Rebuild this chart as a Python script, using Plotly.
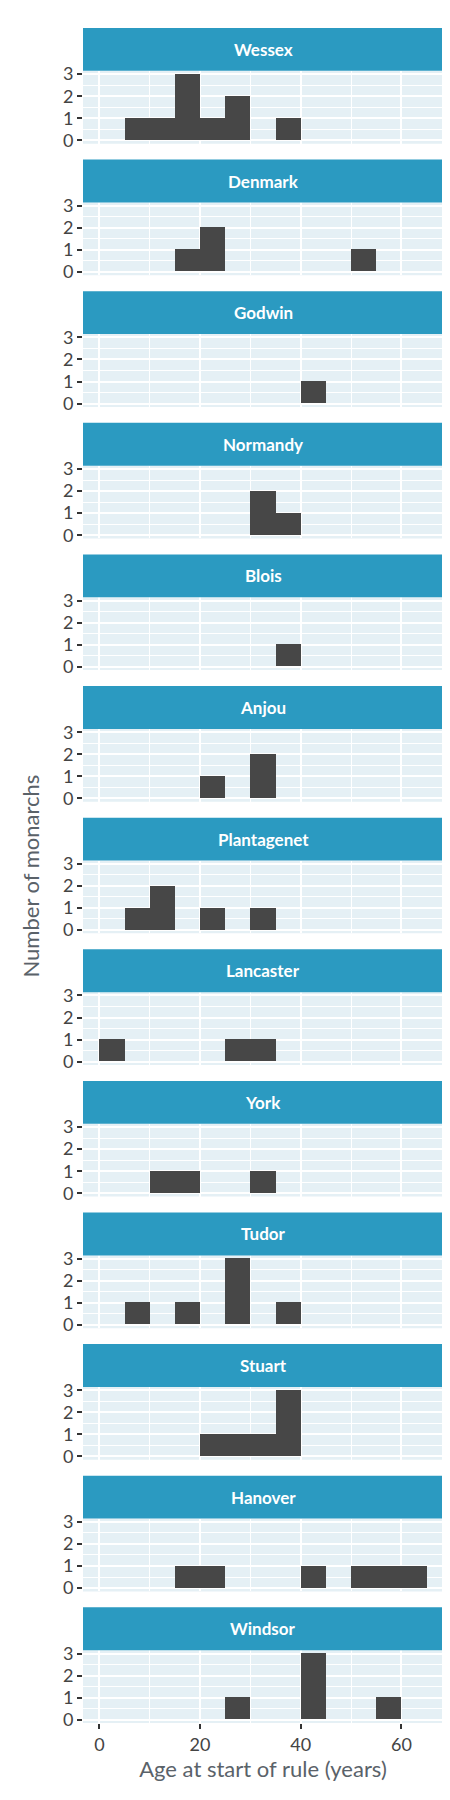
import plotly.graph_objects as go

dynasties = ["Wessex","Denmark","Godwin","Normandy","Blois","Anjou","Plantagenet",
             "Lancaster","York","Tudor","Stuart","Hanover","Windsor"]
bin_starts = [0,5,10,15,20,25,30,35,40,45,50,55,60]
counts = {
    "Wessex":      [0,1,1,3,1,2,0,1,0,0,0,0,0],
    "Denmark":     [0,0,0,1,2,0,0,0,0,0,1,0,0],
    "Godwin":      [0,0,0,0,0,0,0,0,1,0,0,0,0],
    "Normandy":    [0,0,0,0,0,0,2,1,0,0,0,0,0],
    "Blois":       [0,0,0,0,0,0,0,1,0,0,0,0,0],
    "Anjou":       [0,0,0,0,1,0,2,0,0,0,0,0,0],
    "Plantagenet": [0,1,2,0,1,0,1,0,0,0,0,0,0],
    "Lancaster":   [1,0,0,0,0,1,1,0,0,0,0,0,0],
    "York":        [0,0,1,1,0,0,1,0,0,0,0,0,0],
    "Tudor":       [0,1,0,1,0,3,0,1,0,0,0,0,0],
    "Stuart":      [0,0,0,0,1,1,1,3,0,0,0,0,0],
    "Hanover":     [0,0,0,1,1,0,0,0,1,0,1,1,1],
    "Windsor":     [0,0,0,0,0,1,0,0,3,0,0,1,0],
}
binw = 5

W, H = 450, 1800
mt, mb, ml, mr = 15, 83, 75, 15
ph = H - mt - mb
pw = W - ml - mr
strip_h, panel_h, gap = 43, 73, 16

fig = go.Figure()
layout = {}
shapes, annots = [], []
STRIP = "#2b9ac1"
BG = "#e5f0f5"
FONT = "Lato, Roboto, sans-serif"

for i, d in enumerate(dynasties):
    top = i * (strip_h + panel_h + gap)
    p_top = top + strip_h
    p_bot = p_top + panel_h
    y0 = 1 - p_bot / ph
    y1 = 1 - p_top / ph
    s0 = 1 - p_top / ph
    s1 = 1 - top / ph
    n = i + 1
    xa = "x" if n == 1 else f"x{n}"
    ya = "y" if n == 1 else f"y{n}"
    fig.add_trace(go.Bar(
        x=[b + binw / 2 for b in bin_starts], y=counts[d], width=binw,
        marker=dict(color="#474747", line=dict(width=0)),
        xaxis=xa, yaxis=ya, showlegend=False, hoverinfo="x+y"))
    last = i == len(dynasties) - 1
    layout["xaxis" if n == 1 else f"xaxis{n}"] = dict(
        domain=[0, 1], anchor=ya, range=[-3.25, 68.25],
        tickvals=[0, 20, 40, 60], showticklabels=last,
        ticks="outside" if last else "", ticklen=5, tickwidth=2, tickcolor="#333",
        gridcolor="white", gridwidth=2,
        minor=dict(dtick=10, tick0=0, gridcolor="white", gridwidth=1, showgrid=True),
        zeroline=False, showline=False,
        tickfont=dict(size=18, color="#444", family=FONT),
        title=dict(text="Age at start of rule (years)" if last else "",
                   font=dict(size=22, color="#5a6269", family=FONT), standoff=6),
    )
    layout["yaxis" if n == 1 else f"yaxis{n}"] = dict(
        domain=[y0, y1], anchor=xa, range=[-0.15, 3.15],
        tickvals=[0, 1, 2, 3], ticks="outside", ticklen=5, tickwidth=2,
        tickcolor="#333", gridcolor="white", gridwidth=2,
        minor=dict(dtick=0.5, tick0=0, gridcolor="white", gridwidth=1, showgrid=True),
        zeroline=False, showline=False,
        tickfont=dict(size=18, color="#444", family=FONT),
    )
    shapes.append(dict(type="rect", xref="paper", yref="paper", x0=0, x1=1,
                       y0=y0, y1=y1, fillcolor=BG, line=dict(width=0), layer="below"))
    shapes.append(dict(type="rect", xref="paper", yref="paper", x0=0, x1=1,
                       y0=s0, y1=s1, fillcolor=STRIP, line=dict(width=0)))
    annots.append(dict(text=f"<b>{d}</b>", xref="paper", yref="paper",
                       x=0.5, y=(s0 + s1) / 2, xanchor="center", yanchor="middle",
                       showarrow=False,
                       font=dict(size=17, color="white", family=FONT)))

annots.append(dict(text="Number of monarchs", xref="paper", yref="paper",
                   x=(22 - ml) / pw, y=0.5, xanchor="center", yanchor="middle",
                   textangle=-90, showarrow=False,
                   font=dict(size=22, color="#5a6269", family=FONT)))

fig.update_layout(width=W, height=H, margin=dict(t=mt, b=mb, l=ml, r=mr),
                  paper_bgcolor="white", plot_bgcolor="rgba(0,0,0,0)",
                  bargap=0, shapes=shapes, annotations=annots, **layout)
fig.write_html("out.html")
